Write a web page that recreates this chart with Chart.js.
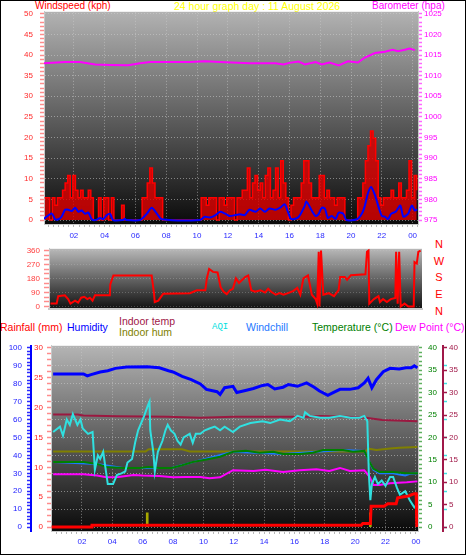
<!DOCTYPE html>
<html>
<head>
<meta charset="utf-8">
<script src="https://cdn.jsdelivr.net/npm/chart.js@4.4.1/dist/chart.umd.min.js"></script>
<style>
    html, body { margin: 0; padding: 0; background: #fff; }
    #wrap { position: relative; width: 466px; height: 555px; overflow: hidden; font-family: "Liberation Sans", Arial, sans-serif; }
    #frame { position: absolute; left: 0; top: 0; width: 464px; height: 553px; border: 1px solid #000; pointer-events: none; z-index: 5; }
    canvas { position: absolute; left: 0; }
    .t { position: absolute; white-space: nowrap; font-size: 10px; line-height: 12px; }
    .l { font-size: 10.5px; }
</style>
</head>
<body>
<div id="wrap">
    <div class="t" style="left:35px;top:0;color:#ff0000">Windspeed (kph)</div>
    <div class="t" style="left:174px;top:0;color:#ffff00;font-size:10.5px">24 hour graph day : 11 August 2026</div>
    <div class="t" style="left:372px;top:0;color:#ff00ff">Barometer (hpa)</div>

    <div class="t" style="left:433px;top:236px;width:12px;text-align:center;font-size:11px;line-height:16.7px;color:#ff0000">N<br>W<br>S<br>E<br>N</div>

    <div class="t l" style="left:0;top:321px;color:#ff0000">Rainfall (mm)</div>
    <div class="t l" style="left:67px;top:321px;color:#0000ff">Humidity</div>
    <div class="t l" style="left:119px;top:315px;color:#a01848">Indoor temp</div>
    <div class="t l" style="left:119px;top:326px;color:#808000">Indoor hum</div>
    <div class="t" style="left:212px;top:321px;color:#00e0e0;font-family:'Liberation Mono',monospace;font-size:9px">AQI</div>
    <div class="t l" style="left:246px;top:321px;color:#1e78ff">Windchill</div>
    <div class="t l" style="left:312px;top:321px;color:#008000">Temperature (°C)</div>
    <div class="t l" style="left:395px;top:321px;color:#ff00ff">Dew Point (°C)</div>

    <canvas id="windChart" width="466" height="242" style="top:0"></canvas>
    <canvas id="dirChart" width="466" height="78" style="top:240px"></canvas>
    <canvas id="envChart" width="466" height="220" style="top:335px"></canvas>
    <div id="frame"></div>
</div>

<script>
// ---- top panel: wind speed (kph) and barometer (hpa) ----
const baroHours = [0.06, 1.43, 2.4, 3.38, 4.35, 5.52, 6.3, 6.95, 9.55, 10.5, 11.5, 13.4, 15.1, 15.6, 16.0, 16.6, 17.0, 17.7, 18.1, 18.6, 19.2, 19.8, 20.45, 20.9, 21.56, 22.2, 22.7, 23.05, 23.5, 23.8, 24.15];
const baroHpa = [1013.0, 1013.3, 1013.3, 1012.7, 1012.6, 1012.5, 1013.0, 1013.3, 1013.3, 1013.5, 1013.3, 1013.0, 1013.0, 1012.7, 1013.1, 1013.4, 1012.7, 1013.3, 1012.7, 1013.2, 1012.5, 1013.5, 1013.2, 1014.4, 1015.5, 1015.8, 1016.3, 1015.9, 1016.3, 1016.6, 1016.2];

const avgHours = [0.05, 0.56, 0.78, 1.0, 1.2, 1.43, 1.64, 1.86, 2.08, 2.3, 2.5, 2.73, 2.94, 3.16, 3.4, 3.7, 3.9, 4.14, 4.35, 4.55, 5.2, 5.3, 5.4, 6.3, 6.73, 7.06, 7.4, 7.7, 10.2, 10.5, 10.85, 11.2, 11.5, 11.8, 12.1, 12.5, 12.8, 13.1, 13.4, 13.8, 14.1, 14.4, 14.7, 15.1, 15.4, 15.7, 15.9, 16.1, 16.5, 16.7, 17.0, 17.1, 17.45, 17.7, 17.9, 18.1, 18.3, 18.5, 18.75, 19.0, 19.2, 19.5, 19.7, 20.4, 20.7, 20.9, 21.1, 21.3, 21.56, 21.8, 22.0, 22.2, 22.4, 22.6, 22.9, 23.2, 23.4, 23.7, 23.95, 24.15, 24.3];
const avgKph = [0.3, 1.6, 0.2, 0.2, 0.8, 2.5, 2.5, 2.2, 3.0, 2.0, 2.3, 1.5, 1.8, 0.2, 0, 0.5, 0.2, 1.2, 1.5, 0, 0, 0.3, 0, 0, 1.5, 3.0, 1.5, 0.2, 0, 0.8, 0.6, 1.2, 2.0, 1.6, 1.0, 1.2, 1.4, 1.2, 2.5, 2.0, 2.8, 2.0, 2.8, 2.5, 3.0, 3.8, 2.0, 0.3, 0.5, 1.3, 3.5, 4.5, 2.3, 1.0, 1.5, 3.0, 2.8, 0.5, 1.0, 0.3, 1.8, 1.5, 0, 0.2, 1.5, 3.5, 6.5, 8.0, 6.0, 3.0, 1.0, 0.8, 0.2, 1.5, 2.0, 3.5, 0.8, 1.5, 3.5, 2.3, 2.6];

// gusts every 10 minutes from 00:06
const gustStartHour = 0.1;
const gustKph = [
    5.4, 5.4, 0, 5.4, 3.6, 5.4,   5.4, 7.2, 9.0, 10.8, 5.4, 10.8,
    7.2, 5.4, 7.2, 5.4, 5.4, 7.2,   5.4, 0, 0, 5.4, 0, 5.4,
    5.4, 0, 5.4, 0, 0, 0,   3.6, 0, 0, 0, 0, 0,
    0, 0, 5.4, 5.4, 9.0, 12.6,   9.0, 5.4, 5.4, 5.4, 0, 0,
    0, 0, 0, 0, 0, 0,   0, 0, 0, 0, 0, 0,
    0, 5.4, 5.4, 3.6, 5.4, 5.4,   5.4, 0, 5.4, 5.4, 3.6, 5.4,
    5.4, 5.4, 0, 5.4, 5.4, 7.2,   7.2, 12.6, 5.4, 9.0, 10.8, 7.2,
    9.0, 5.4, 10.8, 12.6, 5.4, 7.2,   12.6, 5.4, 14.4, 9.0, 5.4, 0,
    3.6, 5.4, 5.4, 5.4, 9.0, 14.4,   14.4, 9.0, 5.4, 5.4, 5.4, 10.8,
    10.8, 5.4, 7.2, 5.4, 5.4, 3.6,   5.4, 5.4, 5.4, 0, 0, 0,
    0, 0, 5.4, 5.4, 9.0, 14.4,   18.0, 21.6, 19.8, 14.4, 5.4, 3.6,
    5.4, 5.4, 5.4, 7.2, 5.4, 5.4,   9.0, 5.4, 5.4, 7.2, 14.4, 5.4,
    10.8, 7.2
];

// ---- middle panel: wind direction (degrees) ----
const dirHours = [0.1, 0.5, 0.6, 1.03, 1.25, 1.4, 1.7, 1.9, 2.1, 2.3, 2.5, 2.67, 2.84, 3.0, 3.97, 4.0, 4.2, 6.7, 6.85, 6.9, 7.13, 7.45, 9.2, 9.65, 10.2, 10.3, 10.45, 10.7, 11.0, 11.2, 11.4, 11.6, 11.8, 12.0, 12.2, 12.4, 12.6, 12.8, 13.0, 13.2, 13.45, 13.8, 14.1, 14.3, 14.5, 14.8, 15.05, 15.3, 15.6, 15.95, 16.2, 16.4, 16.6, 16.9, 17.15, 17.4, 17.5, 17.6, 17.65, 17.75, 17.9, 18.25, 18.6, 18.9, 19.0, 19.3, 19.45, 19.7, 20.65, 20.75, 20.85, 20.9, 21.2, 21.5, 21.6, 21.8, 22.05, 22.3, 22.6, 22.65, 22.75, 22.85, 22.95, 23.2, 23.45, 23.8, 23.85, 24.0, 24.1, 24.25];
const dirDeg = [19, 19, 67, 72, 48, 19, 38, 25, 57, 63, 48, 57, 38, 72, 72, 143, 200, 200, 86, 29, 38, 82, 86, 105, 105, 181, 242, 223, 219, 124, 95, 80, 105, 114, 181, 152, 171, 190, 200, 105, 95, 105, 90, 114, 95, 76, 86, 76, 86, 101, 120, 76, 181, 200, 76, 48, 19, 352, 0, 360, 76, 86, 67, 105, 190, 190, 171, 202, 208, 352, 360, 19, 48, 67, 29, 48, 29, 48, 55, 352, 19, 352, 0, 19, 0, 0, 286, 276, 352, 360];

// ---- bottom panel ----
const humHours = [0.1, 2.1, 2.35, 2.6, 3.2, 3.7, 4.2, 4.95, 6.3, 7.1, 7.7, 8.0, 8.6, 9.2, 9.8, 10.2, 10.9, 11.1, 11.4, 11.95, 12.2, 12.7, 13.3, 13.9, 14.25, 14.7, 15.25, 15.6, 16.2, 16.8, 17.3, 17.65, 18.2, 18.55, 19.0, 19.65, 20.2, 20.6, 20.85, 21.1, 21.4, 21.85, 22.3, 22.9, 23.35, 23.7, 23.9, 24.1];
const humPct = [85.4, 85.4, 84.3, 85, 86.5, 87.2, 88.5, 89.2, 89.4, 88.8, 87.2, 86.5, 84, 82.2, 79.8, 76.8, 75.5, 74, 77.7, 78.5, 75, 76, 77.3, 79, 79.5, 77, 78, 79.5, 78.5, 80.4, 78, 75.9, 73.5, 75, 76.8, 76.8, 77.7, 80.4, 83, 77.7, 82.2, 86.6, 88.5, 88.1, 88.8, 88.8, 89.9, 88.8];

const inTempHours = [0.1, 1.7, 2.1, 4.3, 7.6, 9.8, 12.0, 17.0, 17.7, 19.5, 20.7, 21.8, 24.1];
const inTempC = [25.1, 25.1, 24.9, 24.7, 24.6, 24.4, 24.6, 24.6, 24.8, 24.6, 24.4, 23.9, 23.6];

const inHumHours = [0.1, 6.2, 6.4, 8.6, 9.1, 12.0, 16.0, 20.7, 20.85, 21.4, 22.3, 22.9, 24.1];
const inHumPct = [42.2, 42.2, 43.4, 43.4, 42.2, 42.2, 42.2, 42.2, 43.8, 43.0, 43.8, 44.3, 44.7];

const tempHours = [0.1, 2.1, 3.0, 3.6, 4.7, 5.8, 6.4, 7.1, 7.9, 8.6, 9.3, 10.2, 11.1, 11.95, 12.8, 13.7, 14.6, 15.25, 16.35, 17.2, 17.9, 19.2, 19.85, 20.6, 20.95, 21.2, 21.6, 22.5, 23.4, 24.15];
const tempC = [14.5, 14.5, 14.1, 13.4, 13.2, 13.2, 13.4, 13.2, 13.2, 13.8, 14.5, 15.1, 15.7, 16.8, 17.0, 16.6, 16.8, 16.3, 16.3, 16.6, 17.2, 17.2, 16.8, 17.0, 14.5, 13.0, 12.3, 12.3, 12.0, 12.0];

const chillHours = [0.1, 3.0, 4.7, 7.9, 9.3, 11.95, 15.25, 19.2, 20.6, 20.95, 21.2, 21.6, 22.5, 23.0, 23.3, 23.6, 24.15];
const chillC = [14.5, 14.1, 13.2, 13.2, 14.5, 16.8, 16.3, 17.2, 17.0, 14.5, 12.8, 12.0, 12.0, 11.7, 11.5, 11.9, 12.0];

const dewHours = [0.1, 2.1, 3.0, 3.6, 4.4, 5.4, 6.0, 7.1, 8.0, 8.9, 9.8, 10.4, 11.1, 11.95, 13.3, 14.1, 15.25, 16.35, 17.45, 18.3, 19.0, 19.65, 20.6, 20.95, 21.2, 21.6, 22.3, 23.4, 24.1];
const dewC = [11.8, 11.8, 11.5, 11.1, 11.2, 11.6, 11.5, 11.4, 11.1, 11.2, 11.2, 10.9, 11.1, 12.7, 12.5, 12.8, 12.3, 12.7, 12.9, 12.5, 13.2, 12.5, 12.7, 11.2, 9.4, 9.4, 9.8, 10.0, 10.2];

const aqiHours = [0.1, 0.55, 0.75, 1.0, 1.2, 1.4, 1.7, 1.9, 2.05, 2.4, 2.7, 2.85, 3.05, 3.2, 3.4, 3.6, 3.7, 4.05, 4.3, 4.6, 4.85, 5.0, 5.3, 5.5, 5.7, 5.9, 6.1, 6.35, 6.45, 6.5, 6.7, 6.8, 7.0, 7.3, 7.5, 7.65, 7.85, 8.1, 8.3, 8.5, 8.7, 9.1, 9.3, 9.5, 9.8, 10.1, 10.4, 10.75, 11.1, 11.4, 11.95, 12.4, 13.1, 13.9, 14.4, 15.05, 15.7, 16.2, 16.6, 16.7, 17.0, 17.7, 18.3, 19.0, 19.7, 20.3, 20.6, 20.8, 20.9, 21.0, 21.1, 21.3, 21.5, 21.75, 22.0, 22.3, 22.5, 22.75, 22.95, 23.3, 23.6, 23.9, 24.15];
const aqiValue = [53, 56, 51, 60, 57, 63, 57, 60, 55, 52, 53, 32, 40, 38, 42, 30, 24, 24, 29, 30, 31, 36, 38, 47, 54, 58, 62, 68, 70, 54, 42, 31, 42, 48, 54, 57, 54, 52, 48, 46, 50, 52, 47, 52, 52, 54, 55, 56, 54, 56, 53, 56, 58, 59, 58, 60, 59, 62, 61, 64, 62, 61, 61, 62, 61, 61, 62, 59, 30, 15, 24, 28, 24, 26, 23, 28, 28, 22, 18, 20, 15, 11, 13];

const rainHours = [0, 2.65, 2.66, 20.4, 20.5, 21.0, 21.05, 21.9, 22.15, 22.7, 22.8, 23.5, 23.9, 24.02, 24.06];
const rainMm = [0, 0, 0.3, 0.3, 0.6, 0.6, 3.5, 3.5, 3.9, 3.9, 4.9, 5.2, 5.6, 5.6, 0];

const rateHours = [6.3, 21.0];
const rateMm = [2.4, 2.4];

// ---- helpers ----
Chart.defaults.font.family = '"Liberation Sans", Arial, sans-serif';
Chart.defaults.font.size = 8;

const gridDot = 'rgba(205,205,205,0.55)';
const pts = (xs, ys) => xs.map((x, i) => ({ x: x, y: ys[i] }));
const tickVal = c => (c.tick ? c.tick.value : NaN);

function tickSteps(from, to, step) {
    const list = [];
    for (let v = from; v <= to; v += step) list.push({ value: v });
    return list;
}

// minor x ticks every 20 minutes, labels every 2 hours
const hourTicks = [];
for (let m = 20; m <= 1460; m += 20) hourTicks.push(m / 60);
const evenHour = v => Math.abs(v / 2 - Math.round(v / 2)) < 0.01;

function hourAxis(min, max, padding) {
    return {
        type: 'linear', min: min, max: max, offset: false,
        afterBuildTicks: s => { s.ticks = hourTicks.filter(v => v >= min && v <= max).map(v => ({ value: v })); },
        ticks: {
            autoSkip: false, maxRotation: 0, padding: padding, color: '#2a2aff',
            callback: v => evenHour(v) ? String(Math.round(v) % 24).padStart(2, '0') : ''
        },
        grid: {
            offset: false,
            color: c => evenHour(tickVal(c)) ? gridDot : 'transparent',
            tickColor: '#b8b8b8', tickLength: 3
        },
        border: { color: '#c8c8c8', dash: [1, 2] }
    };
}

const plotShade = {
    id: 'plotShade',
    beforeDraw(chart, args, opts) {
        const { ctx, chartArea: a } = chart;
        const g = ctx.createLinearGradient(0, a.top, 0, a.bottom);
        g.addColorStop(0, opts.top);
        g.addColorStop(1, opts.bottom);
        ctx.save();
        ctx.fillStyle = g;
        ctx.fillRect(a.left, a.top, a.right - a.left, a.bottom - a.top);
        ctx.restore();
    }
};

const common = {
    responsive: false,
    animation: false,
    events: [],
    plugins: { legend: { display: false }, tooltip: { enabled: false } }
};

// ---- wind speed / barometer ----
const windX = hourAxis(0.06, 24.35, 4);
windX.afterFit = s => { s.height = 18; };

new Chart(document.getElementById('windChart'), {
    type: 'line',
    data: {
        datasets: [
            { label: 'Barometer', yAxisID: 'yBaro', data: pts(baroHours, baroHpa), borderColor: '#ff00ff', borderWidth: 2, pointRadius: 0, order: 0 },
            { label: 'Wind average', yAxisID: 'ySpeed', data: pts(avgHours, avgKph), borderColor: '#0000ff', borderWidth: 2, pointRadius: 0, tension: 0.25, order: 1 },
            {
                label: 'Wind gust', yAxisID: 'ySpeed',
                data: gustKph.map((v, i) => ({ x: gustStartHour + i / 6, y: v })),
                borderColor: '#ff0000', borderWidth: 1.5, backgroundColor: 'rgba(225,0,0,0.8)',
                fill: 'origin', stepped: true, pointRadius: 0, order: 2
            }
        ]
    },
    options: {
        ...common,
        layout: { padding: { top: 10, left: 0, right: 0, bottom: 0 } },
        plugins: { ...common.plugins, plotShade: { top: '#b2b2b2', bottom: '#0a0a0a' } },
        scales: {
            x: windX,
            ySpeed: {
                position: 'left', min: -0.96, max: 50.48,
                afterFit: s => { s.width = 44; },
                afterBuildTicks: s => { s.ticks = tickSteps(0, 50, 1); },
                ticks: { autoSkip: false, padding: 7, color: '#ff2a2a', callback: v => v % 5 === 0 ? v : '' },
                grid: { color: c => tickVal(c) % 5 === 0 ? gridDot : 'transparent', tickColor: '#ff8c8c', tickLength: 4, tickWidth: 1.5 },
                border: { color: '#c8c8c8', dash: [1, 2] }
            },
            yBaro: {
                position: 'right', min: 974.04, max: 1025.48,
                afterFit: s => { s.width = 48; },
                afterBuildTicks: s => { s.ticks = tickSteps(975, 1025, 1); },
                ticks: { autoSkip: false, padding: 2, color: '#ff00ff', callback: v => v % 5 === 0 ? v : '' },
                grid: { drawOnChartArea: false, tickColor: '#ff66ff', tickLength: 4, tickWidth: 1.5 },
                border: { color: '#c8c8c8' }
            }
        }
    },
    plugins: [plotShade]
});

// ---- wind direction ----
new Chart(document.getElementById('dirChart'), {
    type: 'line',
    data: {
        datasets: [
            { label: 'Direction', data: pts(dirHours, dirDeg), borderColor: '#ff0000', borderWidth: 2, pointRadius: 0 }
        ]
    },
    options: {
        ...common,
        layout: { padding: { top: 5, left: 0, right: 44, bottom: 5 } },
        plugins: { ...common.plugins, plotShade: { top: '#b8b8b8', bottom: '#101010' } },
        scales: {
            x: {
                type: 'linear', min: 0, max: 24.34,
                afterFit: s => { s.height = 0; },
                ticks: { display: false },
                grid: { drawOnChartArea: false, drawTicks: false },
                border: { color: '#c8c8c8', width: 2 }
            },
            y: {
                position: 'left', min: -17, max: 371.4,
                afterFit: s => { s.width = 49; },
                afterBuildTicks: s => { s.ticks = tickSteps(0, 360, 30); },
                ticks: { autoSkip: false, padding: 4, color: '#ff3c3c', callback: v => v % 90 === 0 ? v : '' },
                grid: { color: c => tickVal(c) % 90 === 0 ? 'rgba(200,200,200,0.3)' : 'transparent', tickColor: '#ff8c8c', tickLength: 5, tickWidth: 1.5 },
                border: { color: '#c8c8c8', dash: [1, 2] }
            }
        }
    },
    plugins: [plotShade]
});

// ---- rain, humidity, temperatures, AQI ----
const envX = hourAxis(-0.04, 24.14, 3);
envX.afterFit = s => { s.height = 24; };

new Chart(document.getElementById('envChart'), {
    type: 'line',
    data: {
        datasets: [
            { label: 'Rainfall', yAxisID: 'yRain', data: pts(rainHours, rainMm), borderColor: '#ff0000', borderWidth: 3, pointRadius: 0, order: 0 },
            { label: 'AQI', yAxisID: 'yAqi', data: pts(aqiHours, aqiValue), borderColor: '#30e0e0', borderWidth: 2, pointRadius: 0, order: 1 },
            { label: 'Humidity', yAxisID: 'yHum', data: pts(humHours, humPct), borderColor: '#0000ff', borderWidth: 3, pointRadius: 0, order: 2 },
            { label: 'Dew Point', yAxisID: 'yTemp', data: pts(dewHours, dewC), borderColor: '#ff00ff', borderWidth: 2, pointRadius: 0, order: 3 },
            { label: 'Temperature', yAxisID: 'yTemp', data: pts(tempHours, tempC), borderColor: '#008000', borderWidth: 2, pointRadius: 0, order: 4 },
            { label: 'Windchill', yAxisID: 'yTemp', data: pts(chillHours, chillC), borderColor: '#1e78ff', borderWidth: 2, pointRadius: 0, order: 5 },
            { label: 'Indoor hum', yAxisID: 'yHum', data: pts(inHumHours, inHumPct), borderColor: '#808000', borderWidth: 2, pointRadius: 0, order: 6 },
            { label: 'Indoor temp', yAxisID: 'yIn', data: pts(inTempHours, inTempC), borderColor: '#9b1840', borderWidth: 2, pointRadius: 0, order: 7 },
            { type: 'bar', label: 'Rain rate', yAxisID: 'yRain', data: pts(rateHours, rateMm), backgroundColor: '#a8a800', barThickness: 2, order: 8 }
        ]
    },
    options: {
        ...common,
        layout: { padding: { top: 5, left: 0, right: 0, bottom: 0 } },
        plugins: { ...common.plugins, plotShade: { top: '#b4b4b4', bottom: '#0a0a0a' } },
        scales: {
            x: envX,
            yHum: {
                position: 'left', weight: 1, min: -2.16, max: 101.08,
                afterFit: s => { s.width = 31; },
                afterBuildTicks: s => { s.ticks = tickSteps(0, 100, 2); },
                ticks: { autoSkip: false, padding: 5, color: '#2020ff', callback: v => v % 10 === 0 ? v : '' },
                grid: { color: c => tickVal(c) % 10 === 0 ? gridDot : 'transparent', tickColor: '#2a2aff', tickLength: 4, tickWidth: 1.5 },
                border: { color: '#0000ff', width: 2, dash: [1, 2] }
            },
            yRain: {
                position: 'left', weight: 0, min: -0.65, max: 30.32,
                afterFit: s => { s.width = 20; },
                afterBuildTicks: s => { s.ticks = tickSteps(0, 30, 1); },
                ticks: { autoSkip: false, padding: 4, color: '#ff2020', callback: v => v % 5 === 0 ? v : '' },
                grid: { drawOnChartArea: false, tickColor: '#ff8c8c', tickLength: 4, tickWidth: 1.5 },
                border: { color: '#c8c8c8' }
            },
            yTemp: {
                position: 'right', weight: 0, min: -0.865, max: 40.43,
                afterFit: s => { s.width = 25; },
                afterBuildTicks: s => { s.ticks = tickSteps(0, 40, 1); },
                ticks: { autoSkip: false, padding: 6, color: '#008000', callback: v => v % 5 === 0 ? v : '' },
                grid: { drawOnChartArea: false, tickColor: '#60b060', tickLength: 4, tickWidth: 1.5 },
                border: { color: '#c8c8c8' }
            },
            yAqi: {
                position: 'right', weight: 1, min: -2.16, max: 101.08,
                afterFit: s => { s.width = 0; },
                afterBuildTicks: s => { s.ticks = tickSteps(0, 90, 10); },
                ticks: { autoSkip: false, padding: 3, color: '#00e0e0', callback: v => v === 50 ? '' : v },
                grid: { drawOnChartArea: false, tickColor: '#40e0e0', tickLength: 4, tickWidth: 1.5 },
                border: { display: false }
            },
            yIn: {
                position: 'right', weight: 2, min: -0.865, max: 40.43,
                afterFit: s => { s.width = 23; },
                afterBuildTicks: s => { s.ticks = tickSteps(0, 40, 5); },
                ticks: { autoSkip: false, padding: 2, color: '#a01848' },
                grid: { drawOnChartArea: false, tickColor: '#a01848', tickLength: 4, tickWidth: 1.5 },
                border: { color: '#a01848', width: 2 }
            }
        }
    },
    plugins: [plotShade]
});
</script>
</body>
</html>
